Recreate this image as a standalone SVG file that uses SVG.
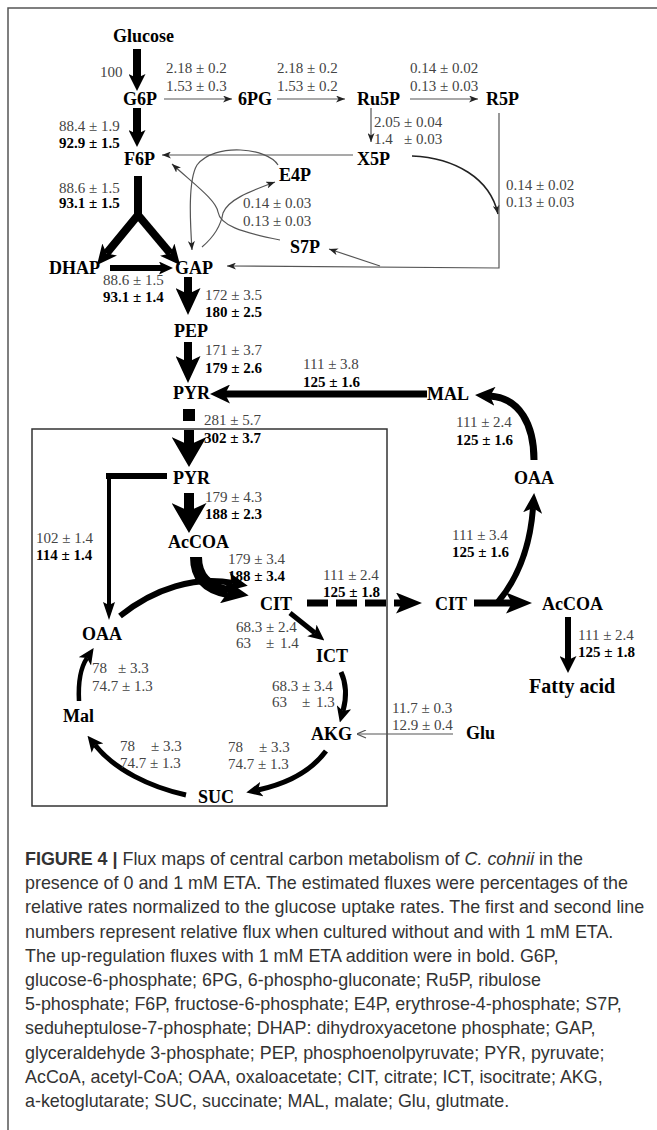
<svg xmlns="http://www.w3.org/2000/svg" width="657" height="1130" viewBox="0 0 657 1130">
<style>
.n{font-family:"Liberation Serif","Times New Roman",serif;font-weight:bold;font-size:18px;fill:#000}
.v{font-family:"Liberation Serif","Times New Roman",serif;font-size:15px;fill:#444}
.b{font-family:"Liberation Serif","Times New Roman",serif;font-size:15px;font-weight:bold;fill:#000}
.cap{font-family:"Liberation Sans",Arial,sans-serif;font-size:17.9px;fill:#333}
.tk{fill:none;stroke:#000;stroke-linejoin:miter}
.tn{fill:none;stroke:#555;stroke-width:1.2}
</style>
<defs>
<marker id="hA" viewBox="0 0 17 17" markerWidth="17" markerHeight="17" refX="4" refY="8.5" orient="auto" markerUnits="userSpaceOnUse"><path d="M0,0 L17,8.5 L0,17 L4,8.5z"/></marker>
<marker id="hB" viewBox="0 0 27 25" markerWidth="27" markerHeight="25" refX="6" refY="12.5" orient="auto" markerUnits="userSpaceOnUse"><path d="M0,0 L27,12.5 L0,25 L6,12.5z"/></marker>
<marker id="hC" viewBox="0 0 30 35" markerWidth="30" markerHeight="35" refX="8" refY="17.5" orient="auto" markerUnits="userSpaceOnUse"><path d="M0,0 L30,17.5 L0,35 L8,17.5z"/></marker>
<marker id="hD" viewBox="0 0 26 21" markerWidth="26" markerHeight="21" refX="6" refY="10.5" orient="auto" markerUnits="userSpaceOnUse"><path d="M0,0 L26,10.5 L0,21 L6,10.5z"/></marker>
<marker id="hE" viewBox="0 0 16 15" markerWidth="16" markerHeight="15" refX="4" refY="7.5" orient="auto" markerUnits="userSpaceOnUse"><path d="M0,0 L16,7.5 L0,15 L4,7.5z"/></marker>
<marker id="hF" viewBox="0 0 18 12" markerWidth="18" markerHeight="12" refX="3" refY="6" orient="auto" markerUnits="userSpaceOnUse"><path d="M0,0 L18,6 L0,12 L3,6z"/></marker>
<marker id="hG" viewBox="0 0 14 13" markerWidth="14" markerHeight="13" refX="3" refY="6.5" orient="auto" markerUnits="userSpaceOnUse"><path d="M0,0 L14,6.5 L0,13 L3,6.5z"/></marker>
<marker id="hM" viewBox="0 0 20 19" markerWidth="20" markerHeight="19" refX="5" refY="9.5" orient="auto" markerUnits="userSpaceOnUse"><path d="M0,0 L20,9.5 L0,19 L5,9.5z"/></marker>
<marker id="hT" viewBox="0 0 9 7" markerWidth="9" markerHeight="7" refX="9" refY="3.5" orient="auto" markerUnits="userSpaceOnUse"><path d="M0,0 L9,3.5 L0,7 L2.5,3.5z" fill="#222"/></marker>
<marker id="hO" viewBox="0 0 10 9" markerWidth="10" markerHeight="9" refX="9.5" refY="4.5" orient="auto" markerUnits="userSpaceOnUse"><path d="M0.5,0.5 L9.5,4.5 L0.5,8.5" fill="none" stroke="#555" stroke-width="1.2"/></marker>
</defs>
<rect width="657" height="1130" fill="#fff"/>
<path d="M8,1130 V8 H657" fill="none" stroke="#555" stroke-width="1.5"/>
<rect x="32" y="429" width="355" height="377" fill="none" stroke="#333" stroke-width="1.5"/>

<g id="connectors">
<path class="tk" stroke-width="8" d="M137,49 V78" marker-end="url(#hA)"/>
<path class="tk" stroke-width="8" d="M137,108 V134" marker-end="url(#hA)"/>
<path class="tk" stroke-width="8" d="M138,176 V215 L106.5,253.4" marker-end="url(#hM)"/>
<path class="tk" stroke-width="8" d="M138,215 L170.4,253.5" marker-end="url(#hM)"/>
<path class="tk" stroke-width="6" d="M110,268 H162" marker-end="url(#hG)"/>
<path class="tk" stroke-width="8" d="M188,277 V294" marker-end="url(#hB)"/>
<path class="tk" stroke-width="8" d="M188,342 V362" marker-end="url(#hB)"/>
<path class="tk" stroke-width="7" d="M427,394 H225" marker-end="url(#hM)"/>
<rect x="183" y="409" width="12" height="12" fill="#000"/>
<path class="tk" stroke-width="10" d="M189,430 V445" marker-end="url(#hC)"/>
<path class="tk" stroke-width="10" d="M189,493 V511" marker-end="url(#hC)"/>
<path class="tk" stroke-width="6" d="M167,476 H106"/>
<path class="tk" stroke-width="4" d="M109,473 V605" marker-end="url(#hF)"/>
<path class="tk" stroke-width="12" d="M196,557 C196,575 205,588 228,592" marker-end="url(#hB)"/>
<path class="tk" stroke-width="6" d="M120,616 C155,588 195,576 233,583" marker-end="url(#hM)"/>
<path class="tk" stroke-width="5" d="M290,613 L315,633" marker-end="url(#hE)"/>
<path class="tk" stroke-width="5" d="M341,672 C347,685 346,700 343,711" marker-end="url(#hE)"/>
<path class="tk" stroke-width="5" d="M326,751 C312,770 290,783 258,790" marker-end="url(#hE)"/>
<path class="tk" stroke-width="5" d="M186,795 C150,787 115,770 95,745" marker-end="url(#hE)"/>
<path class="tk" stroke-width="4.5" d="M79,701 C78,682 81,667 87,658" marker-end="url(#hE)"/>
<path class="tk" stroke-width="7" stroke-dasharray="21 8" d="M307,603 H402" marker-end="url(#hD)"/>
<path class="tk" stroke-width="7" d="M474,603 H512" marker-end="url(#hD)"/>
<path class="tk" stroke-width="6" d="M498,602 C518,578 530,548 533,508" marker-end="url(#hM)"/>
<path class="tk" stroke-width="7" d="M534,460 C534,425 520,398 490,396" marker-end="url(#hM)"/>
<path class="tk" stroke-width="6" d="M568,617 V660" marker-end="url(#hA)"/>

<path class="tn" d="M164,99 H232" marker-end="url(#hT)"/>
<path class="tn" d="M277,99 H345" marker-end="url(#hT)"/>
<path class="tn" d="M410,99 H478" marker-end="url(#hT)"/>
<path class="tn" d="M371,108 V142" marker-end="url(#hT)"/>
<path class="tn" d="M353,155 H162" marker-end="url(#hT)"/>
<path fill="none" stroke="#222" stroke-width="1.5" d="M412,156 C455,158 490,178 498,214" marker-end="url(#hT)"/>
<path class="tn" d="M499,113 V268 L227,266" marker-end="url(#hT)"/>
<path class="tn" d="M380,266 L329,249" marker-end="url(#hT)"/>
<path class="tn" d="M278,165 C268,148 215,142 197,165 C188,180 190,220 192,250" marker-end="url(#hT)"/>
<path class="tn" d="M280,240 C240,232 220,225 218,212 C216,200 195,185 172,164" marker-end="url(#hT)"/>
<path class="tn" d="M202,247 C215,236 221,225 223,213 C228,200 248,192 275,182" marker-end="url(#hT)"/>
<path class="tn" d="M453,734 H357" marker-end="url(#hO)"/>
</g>

<g id="n-glucose"><text class="n" x="113" y="42">Glucose</text></g>
<g id="n-g6p"><text class="n" x="123" y="105">G6P</text></g>
<g id="n-6pg"><text class="n" x="238" y="105">6PG</text></g>
<g id="n-ru5p"><text class="n" x="357" y="105">Ru5P</text></g>
<g id="n-r5p"><text class="n" x="486" y="105">R5P</text></g>
<g id="n-x5p"><text class="n" x="357" y="165">X5P</text></g>
<g id="n-f6p"><text class="n" x="124" y="165">F6P</text></g>
<g id="n-e4p"><text class="n" x="279" y="181">E4P</text></g>
<g id="n-s7p"><text class="n" x="290" y="253">S7P</text></g>
<g id="n-dhap"><text class="n" x="49" y="274">DHAP</text></g>
<g id="n-gap"><text class="n" x="175" y="274">GAP</text></g>
<g id="n-pep"><text class="n" x="174" y="337">PEP</text></g>
<g id="n-pyr1"><text class="n" x="173" y="399">PYR</text></g>
<g id="n-mal1"><text class="n" x="427" y="400">MAL</text></g>
<g id="n-oaa2"><text class="n" x="514" y="484">OAA</text></g>
<g id="n-pyr2"><text class="n" x="173" y="484">PYR</text></g>
<g id="n-accoa1"><text class="n" x="168" y="548">AcCOA</text></g>
<g id="n-cit1"><text class="n" x="260" y="610">CIT</text></g>
<g id="n-cit2"><text class="n" x="435" y="610">CIT</text></g>
<g id="n-accoa2"><text class="n" x="542" y="610">AcCOA</text></g>
<g id="n-oaa1"><text class="n" x="82" y="640">OAA</text></g>
<g id="n-ict"><text class="n" x="316" y="662">ICT</text></g>
<g id="n-mal2"><text class="n" x="63" y="722">Mal</text></g>
<g id="n-akg"><text class="n" x="311" y="740">AKG</text></g>
<g id="n-glu"><text class="n" x="466" y="739">Glu</text></g>
<g id="n-suc"><text class="n" x="198" y="803">SUC</text></g>
<g id="n-fa"><text class="n" x="529" y="693" style="font-size:20px">Fatty acid</text></g>

<g id="labels">
<text class="v" x="100" y="77">100</text>
<text class="v" x="166" y="73">2.18 ± 0.2</text>
<text class="v" x="166" y="91">1.53 ± 0.3</text>
<text class="v" x="277" y="73">2.18 ± 0.2</text>
<text class="v" x="277" y="91">1.53 ± 0.2</text>
<text class="v" x="410" y="73">0.14 ± 0.02</text>
<text class="v" x="410" y="91">0.13 ± 0.03</text>
<text class="v" x="374" y="127">2.05 ± 0.04</text>
<text class="v" x="374" y="144">1.4<tspan x="404">± 0.03</tspan></text>
<text class="v" x="59" y="131">88.4 ± 1.9</text>
<text class="b" x="59" y="148">92.9 ± 1.5</text>
<text class="v" x="59" y="193">88.6 ± 1.5</text>
<text class="b" x="59" y="208">93.1 ± 1.5</text>
<text class="v" x="506" y="190">0.14 ± 0.02</text>
<text class="v" x="506" y="207">0.13 ± 0.03</text>
<text class="v" x="243" y="208">0.14 ± 0.03</text>
<text class="v" x="243" y="226">0.13 ± 0.03</text>
<text class="v" x="103" y="285">88.6 ± 1.5</text>
<text class="b" x="103" y="302">93.1 ± 1.4</text>
<text class="v" x="205" y="300">172 ± 3.5</text>
<text class="b" x="205" y="317">180 ± 2.5</text>
<text class="v" x="205" y="355">171 ± 3.7</text>
<text class="b" x="205" y="373">179 ± 2.6</text>
<text class="v" x="303" y="369">111 ± 3.8</text>
<text class="b" x="303" y="387">125 ± 1.6</text>
<text class="v" x="204" y="425">281 ± 5.7</text>
<text class="b" x="204" y="443">302 ± 3.7</text>
<text class="v" x="456" y="427">111 ± 2.4</text>
<text class="b" x="456" y="445">125 ± 1.6</text>
<text class="v" x="205" y="502">179 ± 4.3</text>
<text class="b" x="205" y="519">188 ± 2.3</text>
<text class="v" x="36" y="543">102 ± 1.4</text>
<text class="b" x="36" y="560">114 ± 1.4</text>
<text class="v" x="452" y="540">111 ± 3.4</text>
<text class="b" x="452" y="557">125 ± 1.6</text>
<text class="v" x="228" y="564">179 ± 3.4</text>
<text class="b" x="228" y="581">188 ± 3.4</text>
<text class="v" x="323" y="580">111 ± 2.4</text>
<text class="b" x="323" y="597">125 ± 1.8</text>
<text class="v" x="236" y="632">68.3 ± 2.4</text>
<text class="v" x="236" y="648">63<tspan x="266">±</tspan><tspan x="280">1.4</tspan></text>
<text class="v" x="578" y="640">111 ± 2.4</text>
<text class="b" x="578" y="657">125 ± 1.8</text>
<text class="v" x="92" y="673">78<tspan x="118">± 3.3</tspan></text>
<text class="v" x="92" y="691">74.7 ± 1.3</text>
<text class="v" x="272" y="691">68.3 ± 3.4</text>
<text class="v" x="272" y="707">63<tspan x="302">±</tspan><tspan x="316">1.3</tspan></text>
<text class="v" x="392" y="713">11.7 ± 0.3</text>
<text class="v" x="392" y="730">12.9 ± 0.4</text>
<text class="v" x="120" y="751">78<tspan x="151">± 3.3</tspan></text>
<text class="v" x="120" y="768">74.7 ± 1.3</text>
<text class="v" x="228" y="752">78<tspan x="259">± 3.3</tspan></text>
<text class="v" x="228" y="769">74.7 ± 1.3</text>
</g>

<g id="caption" class="cap">
<text x="25" y="865"><tspan font-weight="bold">FIGURE 4 |</tspan> Flux maps of central carbon metabolism of <tspan font-style="italic">C. cohnii</tspan> in the</text>
<text x="25" y="889.2">presence of 0 and 1 mM ETA. The estimated fluxes were percentages of the</text>
<text x="25" y="913.4">relative rates normalized to the glucose uptake rates. The first and second line</text>
<text x="25" y="937.6">numbers represent relative flux when cultured without and with 1 mM ETA.</text>
<text x="25" y="961.8">The up-regulation fluxes with 1 mM ETA addition were in bold. G6P,</text>
<text x="25" y="986">glucose-6-phosphate; 6PG, 6-phospho-gluconate; Ru5P, ribulose</text>
<text x="25" y="1010.2">5-phosphate; F6P, fructose-6-phosphate; E4P, erythrose-4-phosphate; S7P,</text>
<text x="25" y="1034.4">seduheptulose-7-phosphate; DHAP: dihydroxyacetone phosphate; GAP,</text>
<text x="25" y="1058.6">glyceraldehyde 3-phosphate; PEP, phosphoenolpyruvate; PYR, pyruvate;</text>
<text x="25" y="1082.8">AcCoA, acetyl-CoA; OAA, oxaloacetate; CIT, citrate; ICT, isocitrate; AKG,</text>
<text x="25" y="1107">a-ketoglutarate; SUC, succinate; MAL, malate; Glu, glutmate.</text>
</g>
</svg>
